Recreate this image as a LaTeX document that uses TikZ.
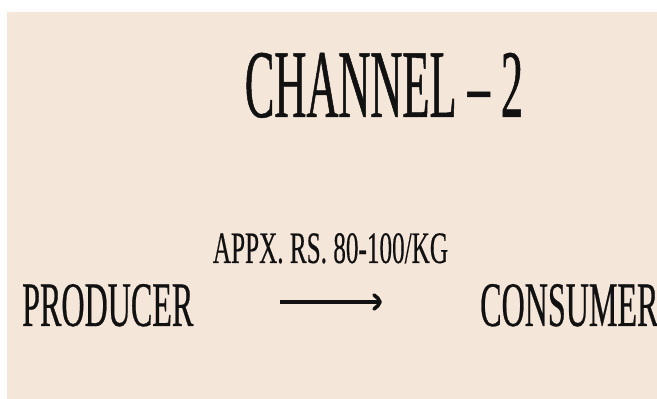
\documentclass[tikz,border=0pt]{standalone}
\usepackage{fontspec}
\newfontfamily\titlefont[FakeStretch=0.457,FakeBold=0.5]{Liberation Serif}
\newfontfamily\namefont[FakeStretch=0.506,FakeBold=0.4]{Liberation Serif}
\newfontfamily\labelfont[FakeStretch=0.56,FakeBold=0.3]{Liberation Serif}
\definecolor{bgbeige}{HTML}{F5E6DA}
\definecolor{ink}{HTML}{111111}
\begin{document}
\begin{tikzpicture}[x=1pt,y=1pt,
  txt/.style={inner sep=0pt, text=ink},
  flow/.style={line width=4pt, draw=ink},
  headline/.style={line width=3.6pt, draw=ink, line cap=round, line join=round}]
\useasboundingbox (0,0) rectangle (657,399);
\fill[white] (0,0) rectangle (657,399);
\fill[bgbeige] (7,0) rectangle (657,387);
\node[txt, anchor=base] (title) at (384,282) {\titlefont\fontsize{97}{97}\selectfont CHANNEL – 2};
\node[txt, anchor=base west] (producer) at (22,73) {\namefont\fontsize{63.4}{63.4}\selectfont PRODUCER};
\node[txt, anchor=base west] (consumer) at (480,73) {\namefont\fontsize{63.4}{63.4}\selectfont CONSUMER};
\node[txt, anchor=base] (price) at (330.5,136) {\labelfont\fontsize{45}{45}\selectfont APPX. RS. 80-100/KG};
\coordinate (a1) at (280,97);
\coordinate (a2) at (380,97);
\draw[flow] (a1) -- (a2);
\draw[headline] (a2) ++(-6,7) .. controls +(3,-2) and +(-1,3) .. (a2)
  .. controls +(-1,-3) and +(3,2) .. ++(-6,-7);
\end{tikzpicture}
\end{document}
